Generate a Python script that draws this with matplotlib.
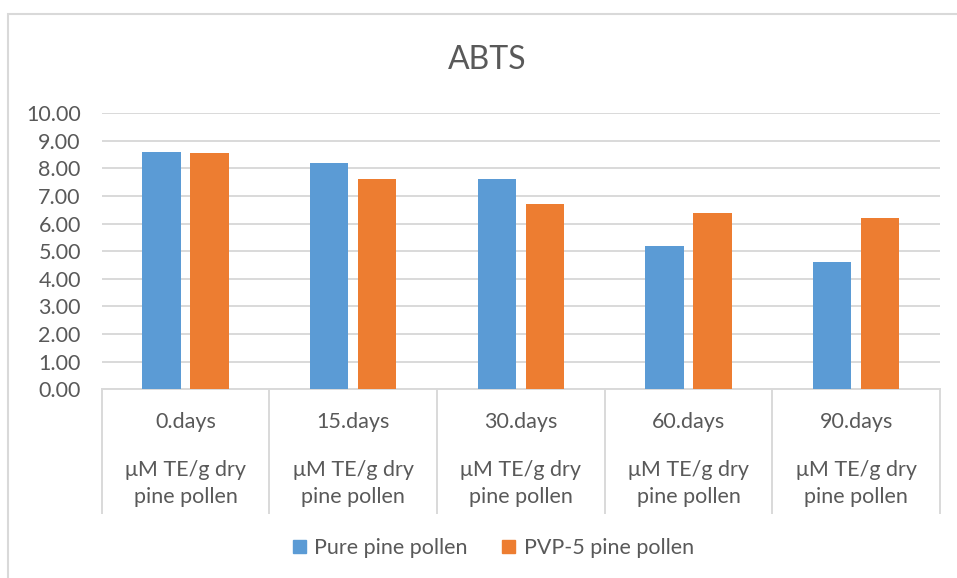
import numpy as np
import matplotlib.pyplot as plt
import matplotlib.transforms as mtransforms
from matplotlib.patches import Rectangle, Patch

plt.rcParams['font.family'] = ['Lato', 'DejaVu Sans']

# ABTS values, µM TE/g dry pine pollen
days = ['0.days', '15.days', '30.days', '60.days', '90.days']
unit_label = 'μM TE/g dry\npine pollen'
pure = [8.60, 8.18, 7.62, 5.18, 4.61]
pvp5 = [8.56, 7.62, 6.71, 6.37, 6.19]
series_names = ['Pure pine pollen', 'PVP-5 pine pollen']

blue = '#5B9BD5'
orange = '#ED7D31'
grey_line = '#D9D9D9'
text_col = '#595959'

W, H = 957, 578
fig = plt.figure(figsize=(W / 100, H / 100), dpi=100)
ax = fig.add_axes([101.7 / W, 1 - 389.3 / H, (940 - 101.7) / W, (389.3 - 113) / H])

x = np.arange(len(days))
bw = 0.228
off = 0.143
ax.bar(x - off, pure, bw, color=blue, zorder=3)
ax.bar(x + off, pvp5, bw, color=orange, zorder=3)

ax.set_xlim(-0.5, len(days) - 0.5)
ax.set_ylim(0, 10)
ax.set_yticks(np.arange(0, 11, 1))
ax.set_yticklabels(['%.2f' % v for v in np.arange(0, 11, 1)], fontsize=15.5, color=text_col)
ax.tick_params(axis='y', length=0, pad=15)
ax.set_xticks([])
ax.grid(axis='y', color=grey_line, lw=1.4, zorder=0)
for s in ['top', 'right', 'left']:
    ax.spines[s].set_visible(False)
ax.spines['bottom'].set_color(grey_line)
ax.spines['bottom'].set_linewidth(1.4)

# category separators and two-level labels below the axis
trans = mtransforms.blended_transform_factory(ax.transData, ax.transAxes)
for b in np.arange(-0.5, len(days), 1):
    ax.plot([b, b], [0, -0.4477], color=grey_line, lw=1.4, transform=trans, clip_on=False)
for i, d in enumerate(days):
    ax.text(i, -0.118, d, transform=trans, ha='center', va='center', fontsize=15.5, color=text_col)
    ax.text(i, -0.342, unit_label, transform=trans, ha='center', va='center',
            fontsize=15.5, color=text_col, linespacing=1.45)

fig.text(487 / W, 1 - 60 / H, 'ABTS', ha='center', va='center', fontsize=23, color=text_col)

handles = [Patch(color=blue), Patch(color=orange)]
leg = fig.legend(handles, series_names, loc='center', bbox_to_anchor=(493.5 / W, 1 - 548 / H),
                 ncol=2, frameon=False, fontsize=15.5, handlelength=0.6, handleheight=0.6,
                 handletextpad=0.4, columnspacing=1.6)
for t in leg.get_texts():
    t.set_color(text_col)

# chart area border
fig.patches.append(Rectangle((8 / W, -0.1), 1.2, 1 - 14 / H + 0.1, transform=fig.transFigure,
                             fill=False, edgecolor=grey_line, lw=1.5))

fig.savefig('out.png', dpi=100)
